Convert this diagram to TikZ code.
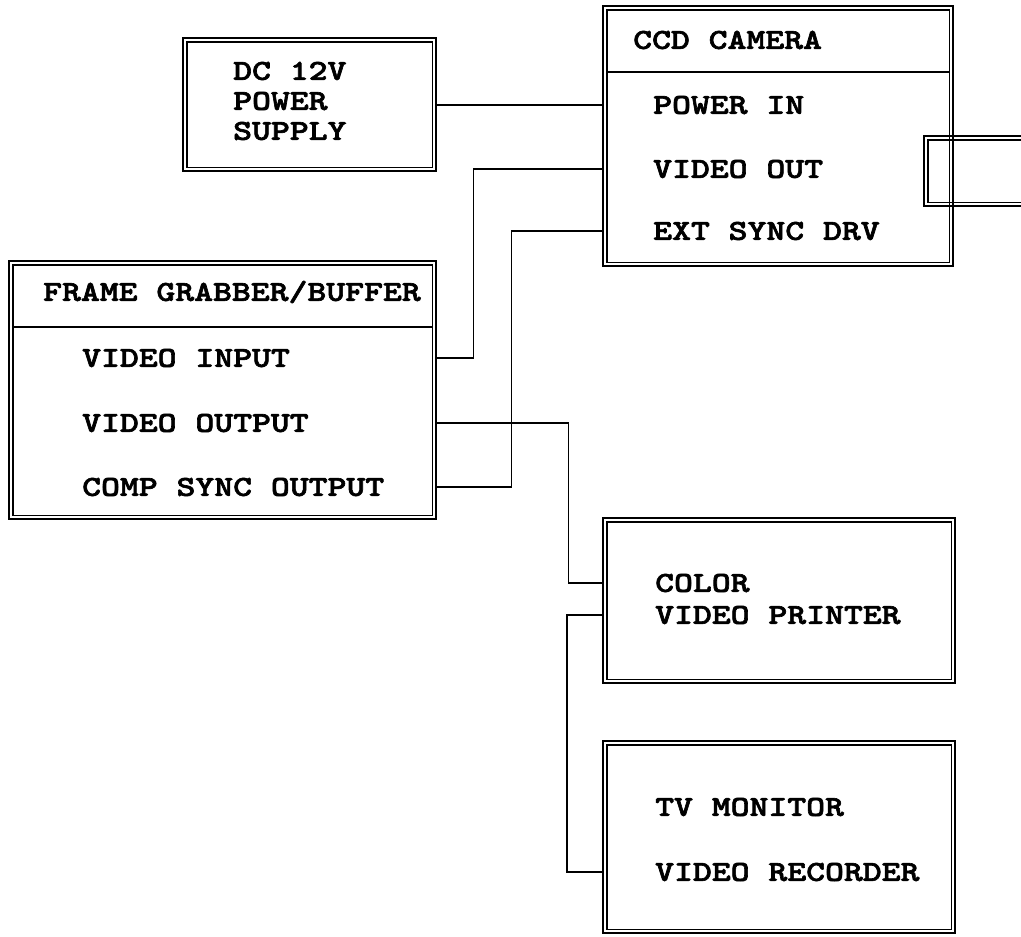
\documentclass[tikz,border=0pt]{standalone}
\usepackage{fontspec}
\newfontfamily\unitfont{lmmonolt10-bold.otf}[FakeStretch=1.24, FakeBold=2.2]
\usetikzlibrary{positioning, calc}
\tikzset{
	unit/.style={rectangle, draw, line width=2.4pt, anchor=north west, inner sep=0pt},
	rim/.style={draw, line width=1.2pt},
	rule/.style={draw, line width=1.4pt},
	lbl/.style={anchor=west, inner sep=0pt, font=\fontsize{29}{34}\unitfont},
	wire/.style={draw, line width=1.6pt},
}

\begin{document}
\begin{tikzpicture}[x=1pt, y=-1pt]
	\useasboundingbox (0,0) rectangle (1021,937);
	
	\node[unit, minimum width=253, minimum height=133] (psu) at (182,37) {};
	\node[unit, minimum width=107, minimum height=70] (lens) at (923,135) {};
	\node[unit, minimum width=350, minimum height=260] (cam) at (602,5) {};
	\node[unit, minimum width=427, minimum height=258] (fg) at (8,260) {};
	\node[unit, minimum width=352, minimum height=165] (prn) at (602,517) {};
	\node[unit, minimum width=352, minimum height=192] (mon) at (602,740) {};
	\foreach \u in {psu,lens,cam,fg,prn,mon}
		\draw[rim] ($(\u.north west)+(5,5)$) rectangle ($(\u.south east)+(-5,-5)$);
	
	\draw[rule] ($(cam.north west)+(5,67)$) -- ($(cam.north east)+(-5,67)$);
	\draw[rule] ($(fg.north west)+(5,67)$) -- ($(fg.north east)+(-5,67)$);
	
	\node[lbl] (dc) at (233,71) {DC 12V};
	\node[lbl] (pw) at (233,101) {POWER};
	\node[lbl] (sup) at (233,131) {SUPPLY};
	
	\node[lbl] (camtitle) at (633,40) {CCD CAMERA};
	\node[lbl] (pwrin) at (653,105) {POWER IN};
	\node[lbl] (vidout) at (653,169) {VIDEO OUT};
	\node[lbl] (extsync) at (653,231) {EXT SYNC DRV};
	
	\node[lbl] (fgtitle) at (43,292) {FRAME GRABBER/BUFFER};
	\node[lbl] (vidin) at (82,358) {VIDEO INPUT};
	\node[lbl] (vidoutput) at (82,423) {VIDEO OUTPUT};
	\node[lbl] (compsync) at (82,487) {COMP SYNC OUTPUT};
	
	\node[lbl] (color) at (655,583) {COLOR};
	\node[lbl] (vprinter) at (655,615) {VIDEO PRINTER};
	
	\node[lbl] (tvmon) at (655,807) {TV MONITOR};
	\node[lbl] (vrec) at (655,872) {VIDEO RECORDER};
	
	\draw[wire] (psu.east |- pwrin) -- (cam.west |- pwrin);
	\draw[wire] (fg.east |- vidin) -- ++(36,0) |- (cam.west |- vidout);
	\draw[wire] (fg.east |- compsync) -- ++(74,0) |- (cam.west |- extsync);
	\draw[wire] (fg.east |- vidoutput) -- ++(131,0) |- (prn.west |- color);
	\draw[wire] (prn.west |- vprinter) -- ++(-35,0) |- (mon.west |- vrec);
	
\end{tikzpicture}
\end{document}
